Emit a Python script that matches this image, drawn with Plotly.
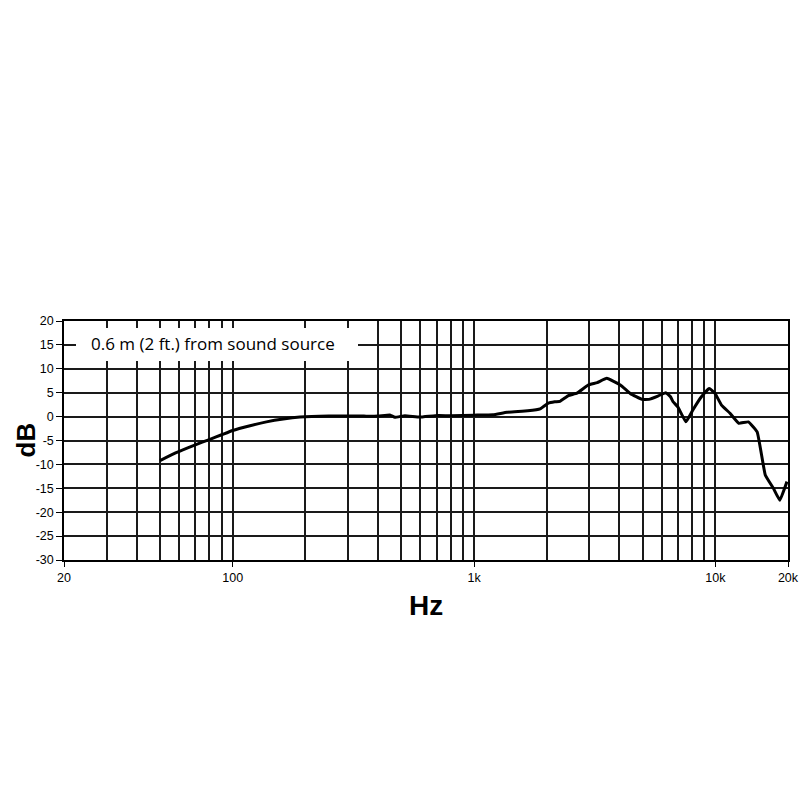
import plotly.graph_objects as go

# Frequency response data (Hz, dB)
freq_hz = [50, 58, 70, 80, 90, 100, 118, 138, 162, 190, 250, 300, 350, 400, 448, 470,
           517, 595, 690, 800, 1000, 1200, 1370, 1670, 1880, 2030, 2160, 2270, 2460,
           2670, 2970, 3240, 3550, 4040, 4450, 4960, 5300, 5780, 6230, 6530, 6680, 7000,
           7550, 8070, 8740, 9430, 9960, 10600, 11500, 12500, 13700, 14900, 16100,
           17400, 18500, 19800]
response_db = [-9.2, -7.6, -5.9, -4.8, -3.8, -2.9, -1.9, -1.1, -0.5, -0.1, 0.1, 0.1, 0.1,
               0.1, 0.35, -0.15, 0.2, -0.1, 0.2, 0.2, 0.3, 0.4, 0.9, 1.2, 1.6, 2.8, 3.1, 3.2,
               4.4, 4.9, 6.6, 7.1, 8.0, 6.6, 4.8, 3.6, 3.6, 4.3, 5.0, 4.1, 3.1, 2.0,
               -1.1, 1.4, 4.1, 5.9, 4.9, 2.4, 0.7, -1.4, -1.1, -3.2, -12.2, -15.0,
               -17.5, -13.6]

x_tick_vals = [20, 100, 1000, 10000, 20000]
x_tick_text = ["20", "100", "1k", "10k", "20k"]
x_grid_vals = [30, 40, 50, 60, 70, 80, 90, 200, 300, 400, 500, 600, 700, 800, 900,
               2000, 3000, 4000, 5000, 6000, 7000, 8000, 9000]
y_tick_vals = [20, 15, 10, 5, 0, -5, -10, -15, -20, -25, -30]
y_tick_text = ["20", "15", "10", "5", "0", "-5", "-10", "-15", "-20", "-25", "-30"]
label_text = "0.6 m (2 ft.) from sound source"

fig = go.Figure()
fig.add_trace(go.Scatter(x=freq_hz, y=response_db, mode="lines",
                         line=dict(color="black", width=3, shape="spline", smoothing=0.3),
                         showlegend=False, hoverinfo="skip"))

W, H = 800, 800
L, R, T, B = 64, 12, 321, 240
pw, ph = W - L - R, H - T - B

def px_x(px):
    return (px - L) / pw

def px_y(py):
    return 1 - (py - T) / ph

grid_col = "#1a1a1a"
fig.update_layout(
    width=W, height=H,
    margin=dict(l=L, r=R, t=T, b=B, autoexpand=False),
    paper_bgcolor="white", plot_bgcolor="white",
    font=dict(family="Liberation Sans, Arial, sans-serif", color="black", size=12),
    xaxis=dict(type="log", range=[1.30103, 4.30103],
               tickvals=x_tick_vals, ticktext=x_tick_text,
               ticks="outside", ticklen=5, tickwidth=1, tickcolor="black",
               showgrid=True, gridcolor=grid_col, gridwidth=1.5,
               minor=dict(tickvals=x_grid_vals, showgrid=True, gridcolor=grid_col,
                          gridwidth=1.5, ticks=""),
               showline=True, linecolor="black", linewidth=1.5, mirror=True,
               zeroline=False, tickfont=dict(size=12.5), automargin=False),
    yaxis=dict(range=[-30, 20], tickvals=y_tick_vals, ticktext=y_tick_text,
               ticks="outside", ticklen=6, tickwidth=1, tickcolor="black",
               showgrid=True, gridcolor=grid_col, gridwidth=1.5,
               showline=True, linecolor="black", linewidth=1.5, mirror=True,
               zeroline=False, tickfont=dict(size=12.5), automargin=False),
    shapes=[dict(type="rect", xref="paper", yref="paper",
                 x0=px_x(76), x1=px_x(358), y0=px_y(361), y1=px_y(328),
                 fillcolor="white", line=dict(width=0), layer="above")],
    annotations=[
        dict(text=label_text, xref="paper", yref="paper", x=px_x(89), y=px_y(343),
             xanchor="left", yanchor="middle", showarrow=False,
             font=dict(family="Open Sans, sans-serif", size=17, color="black")),
        dict(text="<b>Hz</b>", xref="paper", yref="paper", x=0.5, y=px_y(605),
             xanchor="center", yanchor="middle", showarrow=False,
             font=dict(family="Liberation Sans, Arial, sans-serif", size=28)),
        dict(text="<b>dB</b>", xref="paper", yref="paper", x=px_x(25), y=0.5,
             xanchor="center", yanchor="middle", showarrow=False, textangle=-90,
             font=dict(family="Liberation Sans, Arial, sans-serif", size=26)),
    ],
)

fig.write_html("out.html", config={"displayModeBar": False},
               post_script="document.body.style.margin='0';document.body.style.overflow='hidden';")
